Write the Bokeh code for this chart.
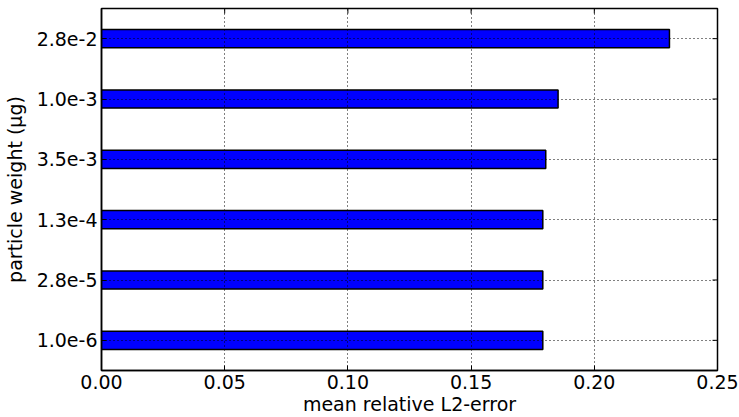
import math
from bokeh.plotting import figure
from bokeh.models import FixedTicker, Range1d
from bokeh.embed import file_html
from bokeh.resources import INLINE

weights = ["1.0e-6", "2.8e-5", "1.3e-4", "3.5e-3", "1.0e-3", "2.8e-2"]
errors = [0.1791, 0.1791, 0.1791, 0.1803, 0.1853, 0.2305]
x_ticks = [0.0, 0.05, 0.10, 0.15, 0.20, 0.25]

idx = list(range(len(weights)))
FONT = "DejaVu Sans"
FS = "19px"

x_range = Range1d(0, 0.25)
y_range = Range1d(-0.5, len(weights) - 0.5)

p = figure(width=739, height=417, output_backend="svg", toolbar_location=None,
           x_range=x_range, y_range=y_range,
           min_border_left=101, min_border_right=22, min_border_top=8, min_border_bottom=47)

p.hbar(y=idx, right=errors, left=0, height=0.3, fill_color="#0000ff",
       line_color="black", line_width=1.5)

p.xaxis.ticker = FixedTicker(ticks=x_ticks)
p.xaxis.major_label_overrides = {t: f"{t:.2f}" for t in x_ticks}
p.yaxis.ticker = FixedTicker(ticks=idx)
p.yaxis.major_label_overrides = {i: w for i, w in zip(idx, weights)}
p.xaxis.axis_label = "mean relative L2-error"
p.yaxis.axis_label = "particle weight (μg)"

for ax in [p.xaxis[0], p.yaxis[0]]:
    ax.major_tick_in = 5
    ax.major_tick_out = 0
    ax.minor_tick_in = 0
    ax.minor_tick_out = 0
    ax.axis_line_color = "black"
    ax.axis_line_width = 1.5
    ax.major_tick_line_color = "black"
    ax.major_label_text_font = FONT
    ax.major_label_text_font_size = FS
    ax.major_label_text_color = "black"
    ax.axis_label_text_font = FONT
    ax.axis_label_text_font_size = FS
    ax.axis_label_text_font_style = "normal"
    ax.axis_label_text_color = "black"
p.xaxis.major_label_standoff = 4
p.xaxis.axis_label_standoff = 1
p.yaxis.major_label_standoff = 4
p.yaxis.axis_label_standoff = 8

# inward ticks on the top and right edges of the frame
p.ray(x=x_ticks, y=[y_range.end] * len(x_ticks), length=5, length_units="screen",
      angle=-math.pi / 2, line_color="black", line_width=1)
p.ray(x=[x_range.end] * len(idx), y=idx, length=5, length_units="screen",
      angle=math.pi, line_color="black", line_width=1)

p.outline_line_color = "black"
p.outline_line_width = 1.5
p.outline_line_alpha = 1.0

p.xgrid.ticker = FixedTicker(ticks=x_ticks)
p.ygrid.ticker = FixedTicker(ticks=idx)
for g in [p.xgrid[0], p.ygrid[0]]:
    g.grid_line_color = "black"
    g.grid_line_dash = "1 3"
    g.grid_line_width = 1
    g.grid_line_alpha = 1.0
    g.level = "overlay"

open("out.html", "w").write(file_html(p, INLINE))
